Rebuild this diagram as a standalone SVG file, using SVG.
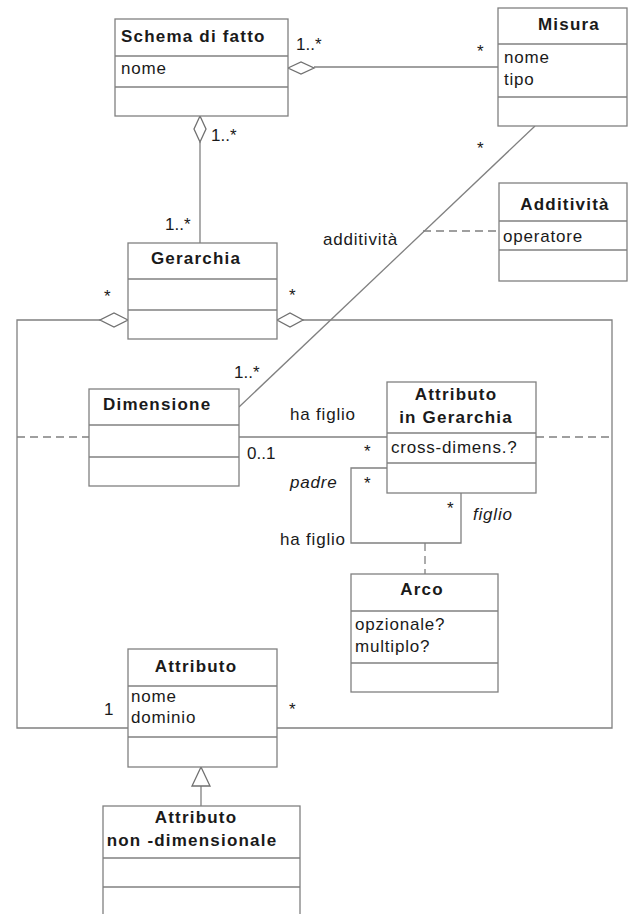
<svg xmlns="http://www.w3.org/2000/svg" width="634" height="914" viewBox="0 0 634 914">
<style>
.box{fill:#fff;stroke:#808080;stroke-width:1.3}
.div{stroke:#808080;stroke-width:1.3}
.ln{fill:none;stroke:#808080;stroke-width:1.3}
.dash{fill:none;stroke:#808080;stroke-width:1.3;stroke-dasharray:8 5}
.dia{fill:#fff;stroke:#707070;stroke-width:1.3}
text{font-family:"Liberation Sans",Arial,sans-serif;font-size:17px;fill:#1a1a1a;letter-spacing:0.8px}
.t{font-weight:bold;letter-spacing:1.2px}
.m{text-anchor:middle}
.i{font-style:italic}
.s{font-size:17px;letter-spacing:0}
</style>
<rect width="634" height="914" fill="#fff"/>
<g id="connectors">
<line class="ln" x1="314" y1="67" x2="498" y2="67"/>
<line class="ln" x1="200" y1="142" x2="200" y2="243"/>
<line class="ln" x1="535" y1="126" x2="239" y2="407"/>
<line class="dash" x1="423" y1="231" x2="499" y2="231"/>
<path class="ln" d="M100,320 H17 V728 H128"/>
<path class="ln" d="M303,320 H612 V728 H277"/>
<line class="ln" x1="239" y1="437" x2="387" y2="437"/>
<line class="dash" x1="17" y1="437" x2="89" y2="437"/>
<line class="dash" x1="536" y1="437" x2="612" y2="437"/>
<path class="ln" d="M387,468 H351 V543 H461 V493"/>
<line class="dash" x1="425" y1="543" x2="425" y2="574"/>
<line class="ln" x1="201" y1="786" x2="201" y2="806"/>
<polygon class="dia" points="288,68 301,62 314,68 301,74"/>
<polygon class="dia" points="200,116 206,129 200,142 194,129"/>
<polygon class="dia" points="128,320 114,313 100,320 114,327"/>
<polygon class="dia" points="277,320 290,313 303,320 290,327"/>
<polygon class="dia" points="201,767 192,786 210,786"/>
<text class="s" x="296" y="50">1..*</text>
<text class="s" x="477" y="57">*</text>
<text class="s" x="477" y="154">*</text>
<text class="s" x="211" y="141">1..*</text>
<text class="s" x="165" y="230">1..*</text>
<text class="s" x="104" y="302">*</text>
<text class="s" x="289" y="301">*</text>
<text class="s" x="234" y="378">1..*</text>
<text x="323" y="245">additività</text>
<text x="290" y="420">ha figlio</text>
<text class="s" x="247" y="459">0..1</text>
<text class="s" x="364" y="457">*</text>
<text class="i" x="290" y="488">padre</text>
<text class="s" x="364" y="489">*</text>
<text class="s" x="447" y="514">*</text>
<text class="i" x="473" y="520">figlio</text>
<text x="280" y="545">ha figlio</text>
<text class="s" x="104" y="715">1</text>
<text class="s" x="289" y="715">*</text>
</g>
<g id="schema">
<rect class="box" x="115" y="19" width="173" height="97"/>
<line class="div" x1="115" y1="56" x2="288" y2="56"/>
<line class="div" x1="115" y1="87" x2="288" y2="87"/>
<text class="t" x="121" y="42">Schema di fatto</text>
<text x="121" y="74">nome</text>
</g>
<g id="misura">
<rect class="box" x="498" y="8" width="129" height="118"/>
<line class="div" x1="498" y1="44" x2="627" y2="44"/>
<line class="div" x1="498" y1="97" x2="627" y2="97"/>
<text class="t m" x="569" y="30">Misura</text>
<text x="504" y="63">nome</text>
<text x="504" y="85">tipo</text>
</g>
<g id="additivita">
<rect class="box" x="499" y="183" width="128" height="98"/>
<line class="div" x1="499" y1="221" x2="627" y2="221"/>
<line class="div" x1="499" y1="250" x2="627" y2="250"/>
<text class="t m" x="565" y="210">Additività</text>
<text x="503" y="242">operatore</text>
</g>
<g id="gerarchia">
<rect class="box" x="128" y="243" width="149" height="96"/>
<line class="div" x1="128" y1="279" x2="277" y2="279"/>
<line class="div" x1="128" y1="310" x2="277" y2="310"/>
<text class="t m" x="196" y="264">Gerarchia</text>
</g>
<g id="dimensione">
<rect class="box" x="89" y="389" width="150" height="97"/>
<line class="div" x1="89" y1="425" x2="239" y2="425"/>
<line class="div" x1="89" y1="457" x2="239" y2="457"/>
<text class="t" x="103" y="410">Dimensione</text>
</g>
<g id="attributo-gerarchia">
<rect class="box" x="387" y="382" width="149" height="111"/>
<line class="div" x1="387" y1="433" x2="536" y2="433"/>
<line class="div" x1="387" y1="463" x2="536" y2="463"/>
<text class="t m" x="456" y="400">Attributo</text>
<text class="t m" x="456" y="423">in Gerarchia</text>
<text x="391" y="453">cross-dimens.?</text>
</g>
<g id="arco">
<rect class="box" x="351" y="574" width="147" height="118"/>
<line class="div" x1="351" y1="611" x2="498" y2="611"/>
<line class="div" x1="351" y1="663" x2="498" y2="663"/>
<text class="t m" x="422" y="595">Arco</text>
<text x="355" y="630">opzionale?</text>
<text x="355" y="652">multiplo?</text>
</g>
<g id="attributo">
<rect class="box" x="128" y="649" width="149" height="118"/>
<line class="div" x1="128" y1="686" x2="277" y2="686"/>
<line class="div" x1="128" y1="737" x2="277" y2="737"/>
<text class="t m" x="196" y="672">Attributo</text>
<text x="131" y="702">nome</text>
<text x="131" y="723">dominio</text>
</g>
<g id="attributo-non-dimensionale">
<rect class="box" x="103" y="806" width="197" height="120"/>
<line class="div" x1="103" y1="858" x2="300" y2="858"/>
<line class="div" x1="103" y1="887" x2="300" y2="887"/>
<text class="t m" x="196" y="823">Attributo</text>
<text class="t m" x="192" y="846">non -dimensionale</text>
</g>
</svg>
